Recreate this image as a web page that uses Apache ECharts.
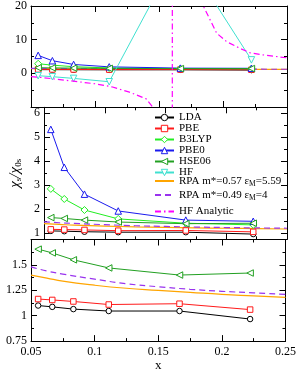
<!DOCTYPE html>
<html>
<head>
<meta charset="utf-8">
<script src="https://cdn.jsdelivr.net/npm/echarts@6/dist/echarts.min.js"></script>
<style>html,body{margin:0;padding:0;background:#fff;}#c{width:299px;height:373px;}</style>
</head>
<body>
<div id="c"></div>
<script>
// ---- data ----
const xPts   = [0.0556, 0.0667, 0.0833, 0.1111, 0.1667, 0.2222];
const lda    = [1.10, 1.087, 1.065, 1.046, 1.046, 0.967];
const pbe    = [1.164, 1.155, 1.14, 1.11, 1.118, 1.06];
const b3lyp  = [2.85, 2.43, 1.97, 1.60, 1.42, 1.35];
const pbe0   = [5.33, 3.75, 2.63, 1.93, 1.55, 1.50];
const hse06  = [1.655, 1.618, 1.55, 1.47, 1.40, 1.42];
const hf     = [-0.7, -1.0, -1.5, -2.5, 37, 4.0];
const rpaX   = [0.05, 0.0625, 0.075, 0.1, 0.125, 0.15, 0.175, 0.2, 0.225, 0.25];
const rpa1   = [1.40, 1.37, 1.34, 1.30, 1.27, 1.25, 1.23, 1.21, 1.195, 1.18];
const rpa2   = [1.48, 1.44, 1.41, 1.36, 1.315, 1.285, 1.26, 1.24, 1.225, 1.21];
const hfaX   = [0.05, 0.06, 0.08, 0.1, 0.113, 0.127, 0.14, 0.145, 0.15, 0.155, 0.158, 0.1602,
                0.1606, 0.163, 0.17, 0.178, 0.1846, 0.1951, 0.2029, 0.2133, 0.2211, 0.2289, 0.25];
const hfa    = [-1.0, -1.3, -2.2, -3.1, -4.0, -5.6, -7.6, -10, -15, -30, -70, -300,
                300, 100, 45, 27, 20, 11.9, 9.4, 7.4, 6.1, 5.6, 4.6];
const xTicks = [0.05, 0.25, 0.05];     // min, max, interval
const y1Range = [-10, 20, 10];
const y2Range = [0.75, 6.25];
const y3Range = [0.75, 1.75, 0.25];

const names = ['LDA','PBE','B3LYP','PBE0','HSE06','HF',
  'RPA m*=0.57 εM=5.59','RPA m*=0.49 εM=4','HF Analytic'];

const pair = (xs, ys) => xs.map((x, i) => [x, ys[i]]);

const FONT = 'Liberation Serif';
const axLine = {color:'#000', width:1};

const grids = [
  {left:31, right:12, top:5.5, height:101.5},
  {left:31, right:12, top:107.3, height:132},
  {left:31, right:12, top:239.5, height:109}
];

function xAxes(g, labels){
  const base = {
    gridIndex:g, type:'value', min:xTicks[0], max:xTicks[1], interval:xTicks[2],
    axisLine:{onZero:false, lineStyle:axLine},
    axisTick:{inside:true, length:6, lineStyle:axLine},
    minorTick:{show:true, splitNumber:2, length:3, lineStyle:axLine},
    splitLine:{show:false}, minorSplitLine:{show:false}
  };
  return [
    Object.assign({}, base, {position:'bottom',
      axisLabel:{show:labels, fontFamily:FONT, fontSize:12, color:'#000', margin:5},
      name: labels ? 'x' : '', nameLocation:'middle', nameGap:11,
      nameTextStyle:{fontFamily:FONT, fontSize:13, color:'#000', verticalAlign:'top'}}),
    Object.assign({}, base, {position:'top', axisLabel:{show:false}})
  ];
}
function yAxes(g, cfg, extra){
  const base = Object.assign({
    gridIndex:g, type:'value',
    axisLine:{onZero:false, lineStyle:axLine},
    axisTick:{inside:true, length:6, lineStyle:axLine},
    minorTick:{show:true, splitNumber:2, length:3, lineStyle:axLine},
    splitLine:{show:false}, minorSplitLine:{show:false}
  }, cfg);
  return [
    Object.assign({}, base, {position:'left',
      axisLabel:Object.assign({fontFamily:FONT, fontSize:12, color:'#000', margin:4}, extra.label)},
      extra.name || {}),
    Object.assign({}, base, {position:'right', axisLabel:{show:false}})
  ];
}

const xAxis = [].concat(xAxes(0,false), xAxes(1,false), xAxes(2,true));
const yAxis = [].concat(
  yAxes(0, {min:y1Range[0], max:y1Range[1], interval:y1Range[2]}, {label:{showMinLabel:false}}),
  yAxes(1, {min:y2Range[0], max:y2Range[1], splitNumber:5}, {label:{showMinLabel:false, showMaxLabel:false},
    name:{name:'{c|χ}{s|s}{c|/χ}{s|0s}', nameLocation:'middle', nameGap:21, nameRotate:90,
      nameTextStyle:{fontFamily:FONT, color:'#000', rich:{
        c:{fontFamily:FONT, fontSize:15, fontStyle:'italic', color:'#000'},
        s:{fontFamily:FONT, fontSize:9, color:'#000', padding:[6,0,0,0]}}}}}),
  yAxes(2, {min:y3Range[0], max:y3Range[1], interval:y3Range[2]}, {label:{showMaxLabel:false}})
);

const styles = {
  'LDA':   {color:'#000000', symbol:'circle', size:5.5},
  'PBE':   {color:'#ff1a1a', symbol:'rect', size:5.5},
  'B3LYP': {color:'#22ee22', symbol:'diamond', size:7},
  'PBE0':  {color:'#1a1aee', symbol:'triangle', size:6.5},
  'HSE06': {color:'#22a022', symbol:'triangle', size:6.5, rot:90},
  'HF':    {color:'#40e0d0', symbol:'triangle', size:6.5, rot:180}
};
const dataMap = {'LDA':lda, 'PBE':pbe, 'B3LYP':b3lyp, 'PBE0':pbe0, 'HSE06':hse06, 'HF':hf};

function pointSeries(name, g){
  const s = styles[name];
  return {
    name, type:'line', xAxisIndex:2*g, yAxisIndex:2*g,
    data: pair(xPts, dataMap[name]),
    symbol:s.symbol, symbolSize:s.size, symbolRotate:s.rot || 0, showAllSymbol:true,
    lineStyle:{color:s.color, width:1},
    itemStyle:{color:'#fff', borderColor:s.color, borderWidth:1},
    clip:true, z:3
  };
}
const rpaColors = ['#ffa500', '#9933ee'];
function rpaSeries(idx, g){
  return {
    name: names[6+idx], type:'line', xAxisIndex:2*g, yAxisIndex:2*g,
    data: pair(rpaX, idx===0 ? rpa1 : rpa2), smooth:true,
    symbol:'none',
    lineStyle: idx===0 ? {color:rpaColors[0], width:1.2} : {color:rpaColors[1], width:1.2, type:[6,4]},
    itemStyle:{color: rpaColors[idx]},
    clip:true, z:2
  };
}
function hfaSeries(g){
  return {
    name:'HF Analytic', type:'line', xAxisIndex:2*g, yAxisIndex:2*g,
    data: pair(hfaX, hfa), symbol:'none',
    lineStyle:{color:'#ff00ff', width:1.2, type:[6,3,1.5,3]},
    itemStyle:{color:'#ff00ff'}, clip:true, z:4
  };
}

const series = [];
// panel 1
['LDA','PBE','B3LYP','PBE0','HSE06','HF'].forEach(n => series.push(pointSeries(n,0)));
series.push(rpaSeries(0,0), rpaSeries(1,0), hfaSeries(0));
// panel 2
series.push(rpaSeries(0,1), rpaSeries(1,1));
['LDA','PBE','B3LYP','PBE0','HSE06'].forEach(n => series.push(pointSeries(n,1)));
// panel 3
series.push(rpaSeries(0,2), rpaSeries(1,2));
['LDA','PBE','HSE06'].forEach(n => series.push(pointSeries(n,2)));

const plainText = {fontFamily:FONT, fontSize:11, color:'#000', lineHeight:10};
const richText = {
  fontFamily:FONT, fontSize:11, color:'#000', lineHeight:14,
  rich:{ t:{fontFamily:FONT, fontSize:11, color:'#000', lineHeight:14},
         s:{fontFamily:FONT, fontSize:7.5, color:'#000', lineHeight:8, verticalAlign:'bottom'} }
};
const legFmt = n => {
  const m = n.match(/^(.*ε)M(=.*)$/);
  return m ? '{t|' + m[1] + '}{s|M}{t|' + m[2] + '}' : n;
};
const legBase = {orient:'vertical', left:154, itemWidth:19, itemHeight:8, padding:0,
  selectedMode:false, formatter:legFmt, itemStyle:{borderWidth:1}};
const noSym = n => ({name:n, itemStyle:{opacity:0}});

const option = {
  animation:false,
  backgroundColor:'#fff',
  grid: grids,
  xAxis, yAxis, series,
  legend:[
    Object.assign({}, legBase, {data:names.slice(0,6), top:112, itemGap:0, textStyle:plainText}),
    Object.assign({}, legBase, {data:[noSym(names[6])], top:174, textStyle:richText}),
    Object.assign({}, legBase, {data:[noSym(names[7])], top:188, textStyle:richText}),
    Object.assign({}, legBase, {data:[noSym(names[8])], top:206, textStyle:plainText})
  ]
};

const chart = echarts.init(document.getElementById('c'), null, {renderer:'canvas'});
chart.setOption(option);
</script>
</body>
</html>
